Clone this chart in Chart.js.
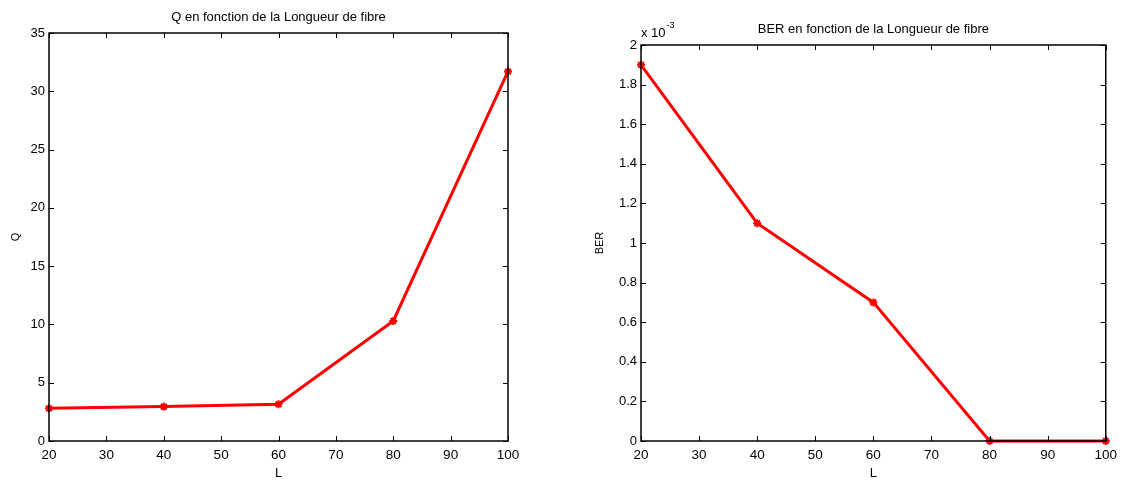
<!DOCTYPE html>
<html>
<head>
<meta charset="utf-8">
<script src="https://cdn.jsdelivr.net/npm/chart.js@4/dist/chart.umd.min.js"></script>
<style>
  html, body { margin: 0; padding: 0; background: #fff; }
  #wrap { position: relative; width: 1123px; height: 480px; overflow: hidden; }
  .box { position: absolute; top: 0; height: 480px; }
  #leftBox { left: 0; width: 560px; }
  #rightBox { left: 560px; width: 563px; }
</style>
</head>
<body>
<div id="wrap">
  <div class="box" id="leftBox"><canvas id="qChart"></canvas></div>
  <div class="box" id="rightBox"><canvas id="berChart"></canvas></div>
</div>
<script>
// Fibre lengths (x values shared by both plots)
const lengths = [20, 40, 60, 80, 100];
// Quality factor Q versus fibre length
const qValues = [2.8, 2.95, 3.15, 10.3, 31.7];
// Bit error rate versus fibre length
const berValues = [1.9e-3, 1.1e-3, 0.7e-3, 0, 0];
// Axis ticks
const xTicks = [20, 30, 40, 50, 60, 70, 80, 90, 100];
const qTicks = [0, 5, 10, 15, 20, 25, 30, 35];
const berTicks = [0, 0.2e-3, 0.4e-3, 0.6e-3, 0.8e-3, 1.0e-3, 1.2e-3, 1.4e-3, 1.6e-3, 1.8e-3, 2.0e-3];

const FONT = 'Liberation Sans, Arial, Helvetica, sans-serif';
const RED = '#ff0000';

// Boxed axes with inward tick marks on all four sides, plus the titles.
const matlabAxes = {
  id: 'matlabAxes',
  afterDraw(chart, args, opts) {
    const ctx = chart.ctx;
    const a = chart.chartArea;
    const xs = chart.scales.x, ys = chart.scales.y;
    const tl = 5;
    ctx.save();
    ctx.strokeStyle = '#000';
    ctx.lineWidth = 1;
    ctx.beginPath();
    xs.ticks.forEach(t => {
      const px = Math.round(xs.getPixelForValue(t.value)) + 0.5;
      ctx.moveTo(px, a.bottom); ctx.lineTo(px, a.bottom - tl);
      ctx.moveTo(px, a.top); ctx.lineTo(px, a.top + tl);
    });
    ys.ticks.forEach(t => {
      const py = Math.round(ys.getPixelForValue(t.value)) + 0.5;
      ctx.moveTo(a.left, py); ctx.lineTo(a.left + tl, py);
      ctx.moveTo(a.right, py); ctx.lineTo(a.right - tl, py);
    });
    ctx.stroke();
    ctx.lineWidth = 1.5;
    ctx.strokeRect(a.left, a.top, a.right - a.left, a.bottom - a.top);

    ctx.fillStyle = '#000';
    ctx.font = '13px ' + FONT;
    ctx.textAlign = 'center';
    ctx.textBaseline = 'middle';
    ctx.fillText(opts.title, (a.left + a.right) / 2, opts.titleY);
    if (opts.exponent) {
      ctx.textAlign = 'left';
      ctx.font = '13px ' + FONT;
      ctx.fillText('x 10', a.left, a.top - 12);
      const w = ctx.measureText('x 10').width;
      ctx.font = '9px ' + FONT;
      ctx.fillText(opts.exponent, a.left + w + 1, a.top - 19);
    }
    ctx.restore();
  }
};

function makeChart(canvasId, values, yTicks, cfg) {
  return new Chart(document.getElementById(canvasId), {
    type: 'line',
    data: {
      datasets: [{
        data: lengths.map((x, i) => ({ x: x, y: values[i] })),
        borderColor: RED,
        backgroundColor: RED,
        borderWidth: 3,
        pointStyle: 'star',
        pointRadius: 4,
        pointBorderWidth: 2,
        pointBorderColor: RED,
        tension: 0,
        clip: false
      }]
    },
    options: {
      responsive: true,
      maintainAspectRatio: false,
      animation: false,
      layout: { padding: { top: cfg.top, right: cfg.right, left: 0, bottom: 0 } },
      plugins: {
        legend: { display: false },
        tooltip: { enabled: false },
        matlabAxes: { title: cfg.title, titleY: cfg.titleY, exponent: cfg.exponent }
      },
      scales: {
        x: {
          type: 'linear',
          min: 20, max: 100,
          afterBuildTicks: s => { s.ticks = xTicks.map(v => ({ value: v })); },
          afterFit: s => { s.height = 39; },
          grid: { display: false, drawTicks: false },
          border: { display: false },
          ticks: { color: '#000', font: { family: FONT, size: 13.5 }, padding: 6, maxRotation: 0 },
          title: { display: true, text: 'L', color: '#000', font: { family: FONT, size: 13, lineHeight: 1 }, padding: 0 }
        },
        y: {
          type: 'linear',
          min: yTicks[0], max: yTicks[yTicks.length - 1],
          afterBuildTicks: s => { s.ticks = yTicks.map(v => ({ value: v })); },
          afterFit: s => { s.width = cfg.yWidth; },
          grid: { display: false, drawTicks: false },
          border: { display: false },
          ticks: { color: '#000', font: { family: FONT, size: 13 }, padding: 4, callback: cfg.fmt },
          title: { display: true, text: cfg.yLabel, color: '#000', font: { family: FONT, size: 11, lineHeight: 1 }, padding: { top: cfg.yTitlePad, bottom: 0 } }
        }
      }
    },
    plugins: [matlabAxes]
  });
}

makeChart('qChart', qValues, qTicks, {
  top: 33, right: 52, yWidth: 49, yLabel: 'Q', yTitlePad: 10,
  title: 'Q en fonction de la Longueur de fibre', titleY: 17,
  fmt: v => String(v)
});

makeChart('berChart', berValues, berTicks, {
  top: 45, right: 15, yWidth: 81, yLabel: 'BER', yTitlePad: 34,
  title: 'BER en fonction de la Longueur de fibre', titleY: 29, exponent: '-3',
  fmt: v => String(Math.round(v * 10000) / 10)
});
</script>
</body>
</html>
